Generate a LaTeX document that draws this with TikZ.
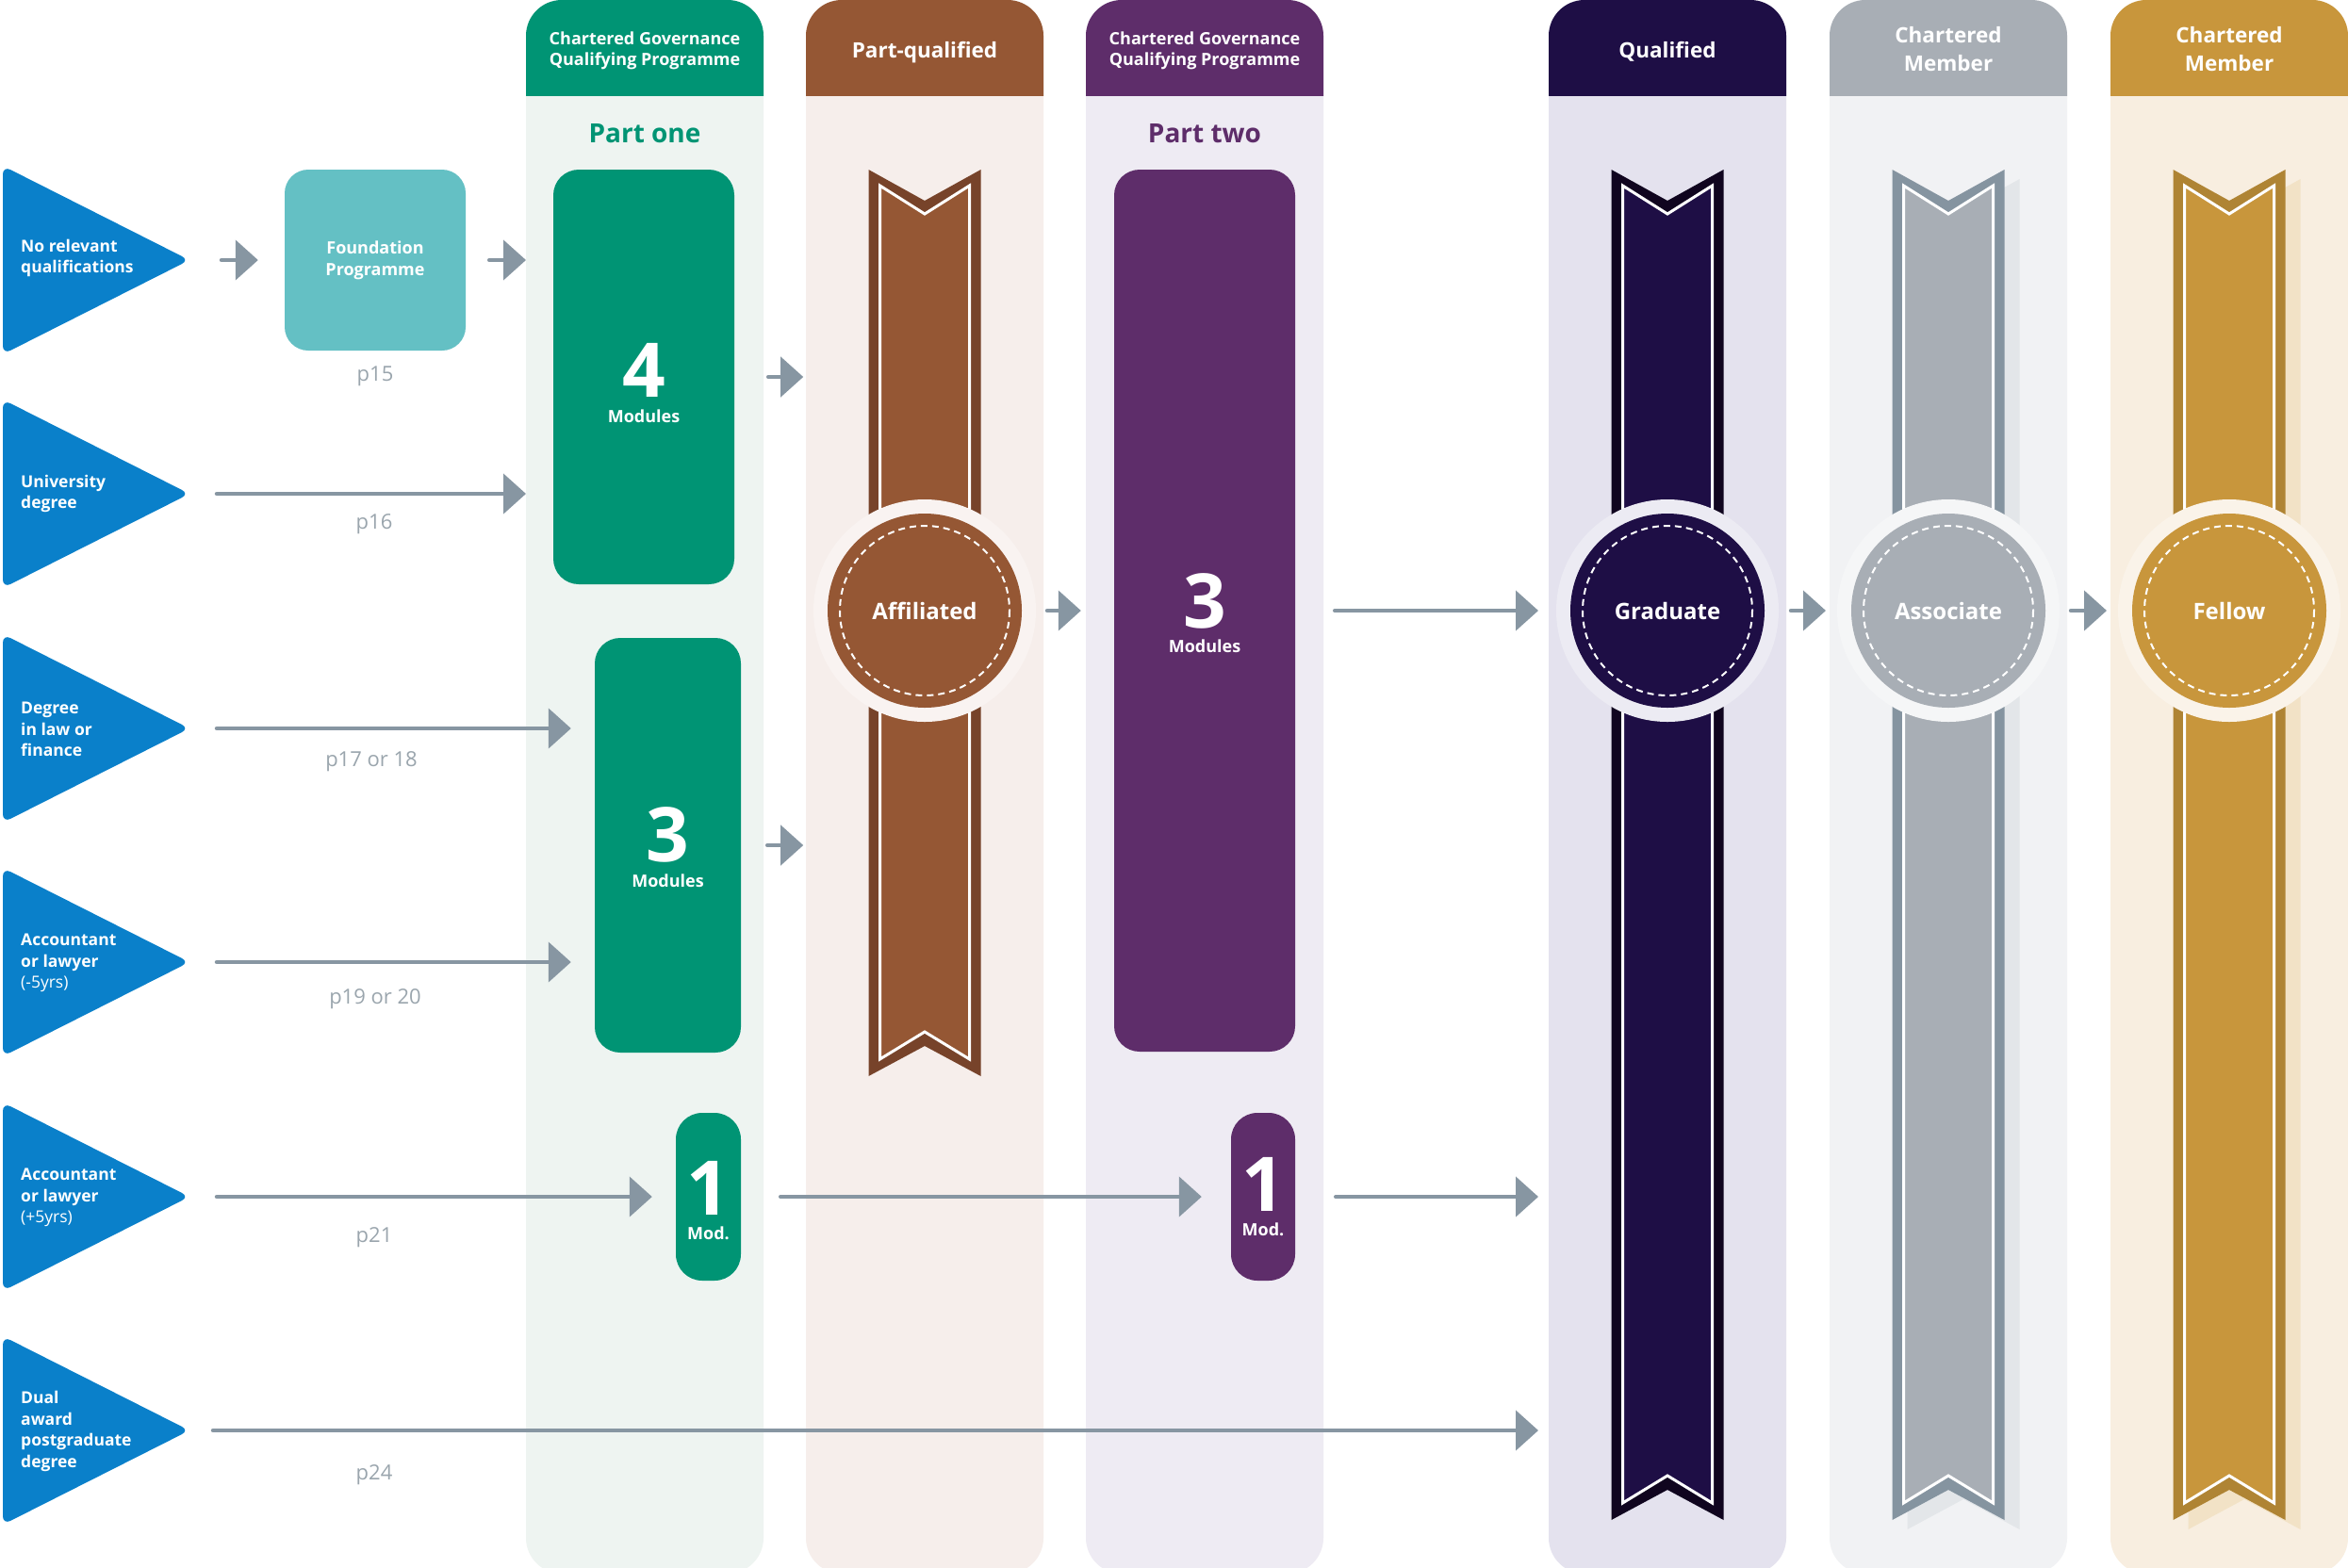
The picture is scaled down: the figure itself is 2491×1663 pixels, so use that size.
\documentclass[tikz,border=0pt]{standalone}
\usepackage{fontspec}
\setmainfont{Open Sans}
\usetikzlibrary{arrows.meta,calc}

\definecolor{cgreen}{HTML}{009474}
\definecolor{bggreen}{HTML}{EEF4F1}
\definecolor{cbrown}{HTML}{955734}
\definecolor{dbrown}{HTML}{77432A}
\definecolor{bgbrown}{HTML}{F6EEEB}
\definecolor{cpurple}{HTML}{5E2D6A}
\definecolor{bgpurple}{HTML}{EEEBF3}
\definecolor{cnavy}{HTML}{1E0E45}
\definecolor{dnavy}{HTML}{10051F}
\definecolor{bgnavy}{HTML}{E4E2EE}
\definecolor{cgrey}{HTML}{A8AEB5}
\definecolor{dgrey}{HTML}{8594A0}
\definecolor{bggrey}{HTML}{F1F2F4}
\definecolor{sgrey}{HTML}{E3E6E9}
\definecolor{cgold}{HTML}{C8963C}
\definecolor{dgold}{HTML}{AF8434}
\definecolor{bggold}{HTML}{F8EEE0}
\definecolor{sgold}{HTML}{F2E2C6}
\definecolor{cteal}{HTML}{64C0C4}
\definecolor{cblue}{HTML}{0A80CA}
\definecolor{carrow}{HTML}{8796A2}
\definecolor{clabel}{HTML}{9AA5AD}

% column: x, body colour, header colour
\newcommand\drawcol[3]{%
  \fill[#2, rounded corners=38pt] (#1,0) rectangle ++(252,1670);
  \begin{scope}
    \clip (#1,0) rectangle ++(252,101);
    \fill[#3, rounded corners=38pt] (#1,0) rectangle ++(252,200);
  \end{scope}}

% ribbon: centre x, bottom y, dark colour, main colour
\newcommand\drawribbon[4]{%
  \begin{scope}[shift={(#1,0)}]
    \fill[#3] (-59.5,180) -- (0,213) -- (59.5,180) -- (59.5,#2) -- (0,{#2-32}) -- (-59.5,#2) -- cycle;
    \filldraw[fill=#4, draw=white, line width=3pt] (-47.5,197) -- (0,227) -- (47.5,197) -- (47.5,{#2-18}) -- (0,{#2-47}) -- (-47.5,{#2-18}) -- cycle;
  \end{scope}}

% ribbon shadow: centre x, bottom y, colour
\newcommand\drawshadow[3]{%
  \begin{scope}[shift={({#1+16},10)}]
    \fill[#3] (-59.5,180) -- (0,213) -- (59.5,180) -- (59.5,#2) -- (0,{#2-32}) -- (-59.5,#2) -- cycle;
  \end{scope}}

% medal: centre x, column bg, main colour, text, name
\newcommand\drawmedal[5]{%
  \fill[#2!70!white] (#1,648) circle[radius=118];
  \fill[#3] (#1,648) circle[radius=103];
  \draw[white, line width=2pt, dash pattern=on 7pt off 5pt] (#1,648) circle[radius=90];
  \node[medt] (#5) at (#1,648) {#4};}

% entry triangle: tip y, name
\newcommand\drawtri[2]{%
  \fill[cblue, rounded corners=9pt] (3,{#1-100}) -- (201,#1) -- (3,{#1+100}) -- cycle;
  \coordinate (#2) at (193,#1);}

\begin{document}
\begin{tikzpicture}[x=1pt,y=-1pt,
  arr/.style={draw=carrow, line width=4.5pt, line cap=round, -{Triangle[length=24pt,width=42pt]}},
  box/.style={rectangle, inner sep=0pt, draw=none},
  trit/.style={text=white, font=\fontsize{17.5pt}{22.5pt}\selectfont\bfseries, align=left, anchor=west, inner sep=0pt},
  hdrs/.style={text=white, font=\fontsize{18pt}{22pt}\selectfont\bfseries, inner sep=0pt, anchor=base},
  hdrl/.style={text=white, font=\fontsize{22.5pt}{30pt}\selectfont\bfseries, inner sep=0pt, anchor=base},
  part/.style={font=\fontsize{28pt}{32pt}\selectfont\bfseries, inner sep=0pt, anchor=base},
  digit/.style={text=white, font=\fontsize{80pt}{90pt}\selectfont\bfseries, inner sep=0pt, text height=57pt, text depth=0pt},
  modt/.style={text=white, font=\fontsize{18pt}{22pt}\selectfont\bfseries, inner sep=0pt, text height=13pt, text depth=0pt},
  plab/.style={text=clabel, font=\fontsize{22pt}{26pt}\selectfont, inner sep=0pt},
  medt/.style={text=white, font=\fontsize{24pt}{28pt}\selectfont\bfseries, inner sep=0pt},
  fndt/.style={text=white, font=\fontsize{18pt}{23pt}\selectfont\bfseries, align=center, inner sep=0pt}
]
\useasboundingbox (0,0) rectangle (2491,1663);
\fill[white] (0,0) rectangle (2491,1663);

% columns
\drawcol{558}{bggreen}{cgreen}
\drawcol{855}{bgbrown}{cbrown}
\drawcol{1152}{bgpurple}{cpurple}
\drawcol{1643}{bgnavy}{cnavy}
\drawcol{1941}{bggrey}{cgrey}
\drawcol{2239}{bggold}{cgold}
\coordinate (gin) at (558,0);
\coordinate (qin) at (1632,0);

% headers
\node[hdrs] (h1a) at (684,47) {Chartered Governance};
\node[hdrs] (h1b) at (684,69) {Qualifying Programme};
\node[hdrl] (h2) at (981,61) {Part-qualified};
\node[hdrs] (h3a) at (1278,47) {Chartered Governance};
\node[hdrs] (h3b) at (1278,69) {Qualifying Programme};
\node[hdrl] (h4) at (1769,61) {Qualified};
\node[hdrl] (h5a) at (2067,45) {Chartered};
\node[hdrl] (h5b) at (2067,75) {Member};
\node[hdrl] (h6a) at (2365,45) {Chartered};
\node[hdrl] (h6b) at (2365,75) {Member};

\node[part, text=cgreen] (pone) at (684,151) {Part one};
\node[part, text=cpurple] (ptwo) at (1278,151) {Part two};

% ribbons
\drawribbon{981}{1142}{dbrown}{cbrown}
\drawribbon{1769}{1613}{dnavy}{cnavy}
\drawshadow{2067}{1613}{sgrey}
\drawribbon{2067}{1613}{dgrey}{cgrey}
\drawshadow{2365}{1613}{sgold}
\drawribbon{2365}{1613}{dgold}{cgold}

% medals
\drawmedal{981}{bgbrown}{cbrown}{Affiliated}{aff}
\drawmedal{1769}{bgnavy}{cnavy}{Graduate}{grad}
\drawmedal{2067}{bggrey}{cgrey}{Associate}{assoc}
\drawmedal{2365}{bggold}{cgold}{Fellow}{fel}

% entry triangles
\drawtri{276}{t1}
\drawtri{524}{t2}
\drawtri{773}{t3}
\drawtri{1021}{t4}
\drawtri{1270}{t5}
\drawtri{1518}{t6}
\node[trit] (l1) at (22,274) {No relevant\\qualifications};
\node[trit] (l2) at (22,524) {University\\degree};
\node[trit] (l3) at (22,774) {Degree\\in law or\\finance};
\node[trit] (l4) at (22,1022) {Accountant\\or lawyer\\\mdseries(-5yrs)};
\node[trit] (l5) at (22,1271) {Accountant\\or lawyer\\\mdseries(+5yrs)};
\node[trit] (l6) at (22,1519) {Dual\\award\\postgraduate\\degree};

% boxes
\node[box, fill=cteal, rounded corners=25pt, minimum width=192pt, minimum height=192pt] (fnd) at (398,276) {};
\node[fndt] (fndl) at (398,276) {Foundation\\Programme};
\node[box, fill=cgreen, rounded corners=27pt, minimum width=192pt, minimum height=440pt] (m4) at (683,400) {};
\node[digit] (m4n) at (683,393) {4};
\node[modt] (m4l) at (683,442) {Modules};
\node[box, fill=cgreen, rounded corners=27pt, minimum width=155pt, minimum height=440pt] (m3) at (708.5,897) {};
\node[digit] (m3n) at (708.5,886) {3};
\node[modt] (m3l) at (708.5,935) {Modules};
\node[box, fill=cgreen, rounded corners=28pt, minimum width=69pt, minimum height=178pt] (m1a) at (751.5,1270) {};
\node[digit] (m1an) at (751.5,1261) {1};
\node[modt] (m1al) at (751.5,1309) {Mod.};
\node[box, fill=cpurple, rounded corners=27pt, minimum width=192pt, minimum height=936pt] (p3) at (1278,648) {};
\node[digit] (p3n) at (1278,638) {3};
\node[modt] (p3l) at (1278,686) {Modules};
\node[box, fill=cpurple, rounded corners=28pt, minimum width=68pt, minimum height=178pt] (m1b) at (1340,1270) {};
\node[digit] (m1bn) at (1340,1257) {1};
\node[modt] (m1bl) at (1340,1305) {Mod.};

% page labels
\node[plab] (q15) at (398,399) {p15};
\node[plab] (q16) at (397,556) {p16};
\node[plab] (q17) at (394,808) {p17 or 18};
\node[plab] (q19) at (398,1060) {p19 or 20};
\node[plab] (q21) at (397,1313) {p21};
\node[plab] (q24) at (397,1565) {p24};

% connectors
\draw[arr] ([xshift=42pt]t1) -- ([xshift=-28pt]fnd.west);
\draw[arr] ([xshift=25pt]fnd.east) -- (gin |- fnd.east);
\draw[arr] ([xshift=37pt]t2) -- (gin |- t2);
\draw[arr] ([xshift=36pt]m4.east) -- ([xshift=73pt]m4.east);
\draw[arr] ([xshift=37pt]t3) -- ($(m3.west |- t3)+(-25,0)$);
\draw[arr] ([xshift=37pt]t4) -- ($(m3.west |- t4)+(-25,0)$);
\draw[arr] ([xshift=28pt]m3.east) -- ([xshift=66pt]m3.east);
\draw[arr] ([xshift=37pt]t5) -- ($(m1a.west |- t5)+(-25,0)$);
\draw[arr] ([xshift=42pt]m1a.east) -- ([xshift=-31pt]m1b.west);
\draw[arr] ([xshift=43pt]m1b.east) -- (qin |- m1b.east);
\draw[arr] ([xshift=33pt]t6) -- (qin |- t6);
\draw[arr] ($(aff)+(130,0)$) -- ([xshift=-35pt]p3.west);
\draw[arr] ([xshift=42pt]p3.east) -- (qin |- p3.east);
\draw[arr] ($(grad)+(131,0)$) -- ($(assoc)+(-130,0)$);
\draw[arr] ($(assoc)+(130,0)$) -- ($(fel)+(-130,0)$);
\end{tikzpicture}
\end{document}
